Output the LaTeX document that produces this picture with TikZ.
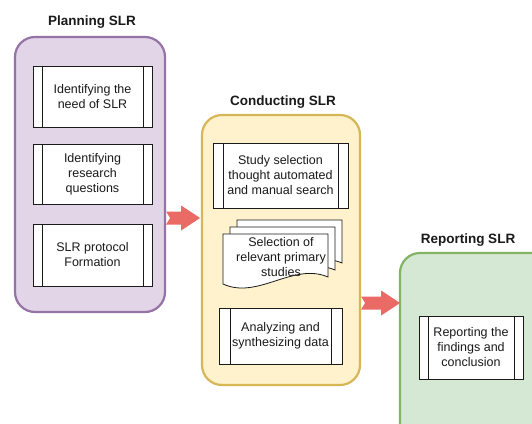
\documentclass[tikz,border=0pt]{standalone}
\usepackage{fontspec}
\setmainfont{Liberation Sans}
\definecolor{purplebd}{HTML}{9673A6}
\definecolor{purplefill}{HTML}{E1D5E7}
\definecolor{yellowbd}{HTML}{D6B656}
\definecolor{yellowfill}{HTML}{FFF2CC}
\definecolor{greenbd}{HTML}{82B366}
\definecolor{greenfill}{HTML}{D5E8D4}
\definecolor{arrowred}{HTML}{EA6B66}
\definecolor{ink}{HTML}{1A1A1A}
\newcommand\slrarrow[2]{%
  \fill[arrowred, shift={(#1)}] (0,-6.5) -- (#2-19,-6.5) -- (#2-19,-12.5) -- (#2,0)
    -- (#2-19,12.5) -- (#2-19,6.5) -- (0,6.5) -- (4,0) -- cycle;}
\begin{document}
\begin{tikzpicture}[x=1pt,y=-1pt,
  container/.style={draw, line width=2.2pt, rounded corners=20pt, inner sep=0pt},
  titletext/.style={font=\fontsize{13.5}{16}\selectfont\bfseries, text=ink},
  bodytext/.style={font=\fontsize{12.5}{15}\selectfont, text=ink, align=center},
  proc/.style={draw=ink, line width=0.8pt, fill=white, inner sep=0pt, bodytext,
    path picture={\draw[ink,line width=0.8pt]
      ([xshift=#1]path picture bounding box.north west) -- ([xshift=#1]path picture bounding box.south west)
      ([xshift=-#1]path picture bounding box.north east) -- ([xshift=-#1]path picture bounding box.south east);}},
  proc/.default=9pt,
  docpage/.style={fill=white, draw=ink, line width=0.8pt},
]
\useasboundingbox (0,0) rectangle (532,423);
\fill[white] (0,0) rectangle (532,423);
\clip (0,0) rectangle (532,423);

% containers
\node[container, draw=purplebd, fill=purplefill, minimum width=150pt, minimum height=275pt] (plan) at (90,174.5) {};
\node[container, draw=yellowbd, fill=yellowfill, minimum width=158pt, minimum height=270pt] (cond) at (281,250) {};
\node[container, draw=greenbd, fill=greenfill, minimum width=160pt, minimum height=192pt] (rep) at (480,349) {};

% titles
\node[titletext] (tplan) at (92,22) {Planning SLR};
\node[titletext] (tcond) at (283,102) {Conducting SLR};
\node[titletext] (trep) at (468,240) {Reporting SLR};

% planning steps
\node[proc, minimum width=119pt, minimum height=61pt] (p1) at (92.5,96.5) {Identifying the\\need of SLR};
\node[proc, minimum width=119pt, minimum height=60pt] (p2) at (92.5,174) {Identifying\\research\\questions};
\node[proc, minimum width=119pt, minimum height=62pt] (p3) at (92.5,255) {SLR protocol\\Formation};

% conducting steps
\node[proc=10pt, minimum width=135pt, minimum height=65pt] (c1) at (280.5,175.5) {Study selection\\thought automated\\and manual search};
\filldraw[docpage, shift={(237,220)}] (0,0) -- (105,0) -- (105,43) .. controls (70,28) and (35,66) .. (0,50) -- cycle;
\filldraw[docpage, shift={(230,227)}] (0,0) -- (105,0) -- (105,43) .. controls (70,28) and (35,66) .. (0,50) -- cycle;
\filldraw[docpage, shift={(223,234)}] (0,0) -- (105,0) -- (105,43) .. controls (70,28) and (35,66) .. (0,50) -- cycle;
\node[bodytext] (md) at (281,257) {Selection of\\relevant primary\\studies};
\node[proc=11pt, minimum width=123pt, minimum height=56pt] (c3) at (280.5,336) {Analyzing and\\synthesizing data};

% reporting step
\node[proc=9pt, minimum width=104pt, minimum height=63pt] (r1) at (471,347.5) {Reporting the\\findings and\\conclusion};

% arrows
\coordinate (a1s) at ([yshift=-43.5pt]plan.east);
\coordinate (a2s) at ([yshift=-53pt]cond.east);
\slrarrow{a1s}{34}
\slrarrow{a2s}{39}
\end{tikzpicture}
\end{document}
